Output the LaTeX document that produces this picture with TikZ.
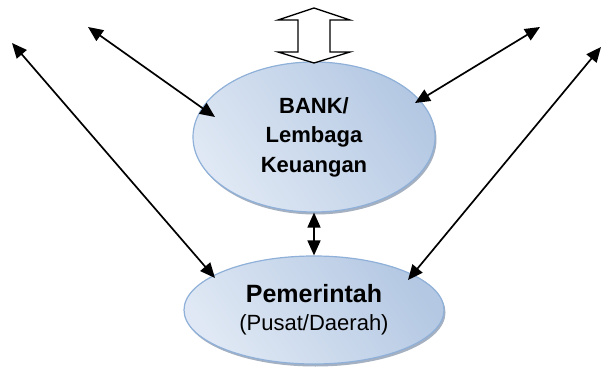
\documentclass[tikz,border=0pt]{standalone}
\usepackage{fontspec}
\setmainfont{Liberation Sans}
\usetikzlibrary{arrows.meta,positioning,shapes.geometric,shadows}

\definecolor{ellLight}{HTML}{DFE8F4}
\definecolor{ellDark}{HTML}{B4C8E3}
\definecolor{ellLine}{HTML}{8FB0D8}
\definecolor{ellShade}{HTML}{8E9CB0}

\tikzset{
  org/.style={ellipse, draw=ellLine, line width=1.2pt, inner sep=0pt, align=center,
    left color=ellLight, right color=ellDark, shading angle=125,
    drop shadow={shadow xshift=1.5pt, shadow yshift=-2.5pt, fill=ellShade, opacity=.8}},
  link/.style={{Triangle[length=15pt,width=13pt]}-{Triangle[length=15pt,width=13pt]}, line width=1.7pt},
  blockarrow/.style={draw, fill=white, line width=1.3pt}
}

\begin{document}
\begin{tikzpicture}[x=1pt,y=-1pt,node distance=173pt,on grid]
                            \useasboundingbox (0,0) rectangle (602,374);
                            \node[org, minimum width=242pt, minimum height=150pt, font=\fontsize{22}{29.5}\selectfont\bfseries] (Bank) at (314,137)
                              {BANK/\\Lembaga\\Keuangan};
                            \node[org, minimum width=260pt, minimum height=108pt, font=\fontsize{22}{28}\selectfont] (Pem) [below of=Bank]
                              {{\fontsize{25}{28}\selectfont\bfseries Pemerintah}\\(Pusat/Daerah)};
                            % free ends
                            \coordinate (ll) at (12,43);
                            \coordinate (lu) at (88,27);
                            \coordinate (ru) at (540,27);
                            \coordinate (rr) at (601,47);
                            \coordinate (Io) at (314,8);
                            \path[link]
                            (ll) edge ([xshift=-99pt,yshift=32pt]Pem.center)
                            (lu) edge ([xshift=-99pt,yshift=20pt]Bank.center)
                            (ru) edge ([xshift=101pt,yshift=34pt]Bank.center)
                            (rr) edge ([xshift=94pt,yshift=30pt]Pem.center)
                            (Bank) edge (Pem);
                            \draw[blockarrow, shift={(Io)}] (0,0) -- (36,12) -- (16,12) -- (16,44) -- (36,44)
                              -- (0,55) -- (-36,44) -- (-16,44) -- (-16,12) -- (-36,12) -- cycle;
                        \end{tikzpicture}
\end{document}
